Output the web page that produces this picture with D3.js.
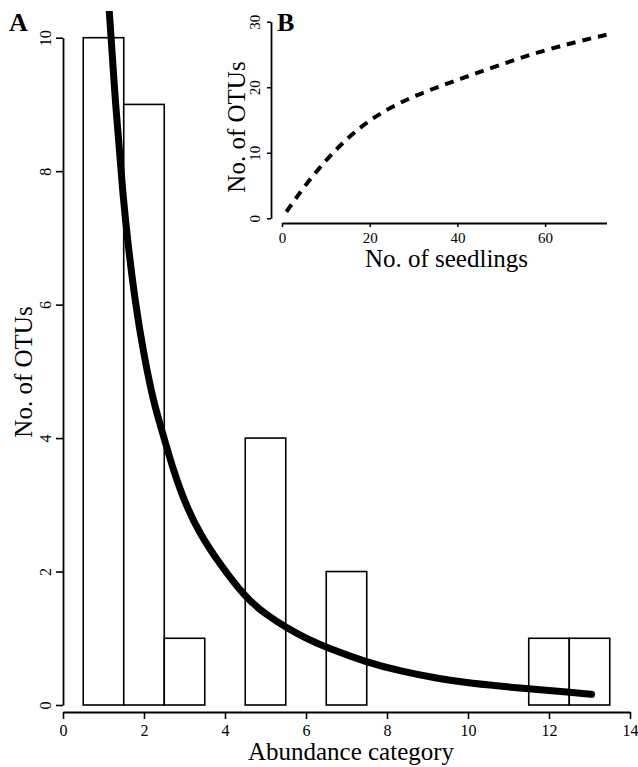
<!DOCTYPE html>
<html>
<head>
<meta charset="utf-8">
<script src="https://cdn.jsdelivr.net/npm/d3@7"></script>
<style>
  body { margin: 0; background: #fff; }
  svg text { font-family: "Liberation Serif", "DejaVu Serif", serif; fill: #000; }
</style>
</head>
<body>
<svg id="chart" width="638" height="767"></svg>
<script>
// histogram of OTUs per abundance category
const categories = [1, 2, 3, 4, 5, 6, 7, 8, 9, 10, 11, 12, 13];
const otuCounts = [10, 9, 1, 0, 4, 0, 2, 0, 0, 0, 0, 1, 1];
const xTicks = [0, 2, 4, 6, 8, 10, 12, 14];
const yTicks = [0, 2, 4, 6, 8, 10];

// fitted curve
const fitX = [1.1, 1.12, 1.3, 1.49, 1.61, 1.78, 1.98, 2.23, 2.44, 2.72, 3.05, 3.38, 3.8, 4.51, 5.03, 5.51, 6.0, 6.51, 7.5, 8.32, 9.31, 9.97, 11.51, 12.52, 13.05, 13.05];
const fitY = [10.8, 10.6, 8.95, 7.57, 6.88, 6.05, 5.3, 4.55, 4.12, 3.52, 2.97, 2.57, 2.17, 1.6, 1.35, 1.16, 1.0, 0.86, 0.64, 0.51, 0.39, 0.33, 0.24, 0.19, 0.16, 0.16];

// inset: accumulation curve
const seedlings = [1, 1, 5, 10, 15, 20, 25, 30, 35, 40, 50, 60, 70, 74, 74];
const otus = [1.0, 1.0, 4.8, 8.9, 12.3, 15.0, 17.0, 18.6, 19.9, 21.1, 23.5, 25.7, 27.4, 28, 28];
const insetXTicks = [0, 20, 40, 60];
const insetYTicks = [0, 10, 20, 30];

const svg = d3.select("#chart");

// ---- main panel A ----
const xScale = d3.scaleLinear().domain([0, 14]).range([63, 630]);
const yScale = d3.scaleLinear().domain([0, 10]).range([705, 37.7]);

svg.append("defs").append("clipPath")
  .attr("id", "plot-clip")
  .append("rect")
  .attr("x", 63).attr("y", 11)
  .attr("width", 580).attr("height", 700);

const bars = categories.map((c, i) => ({cat: c, n: otuCounts[i]})).filter(d => d.n > 0);

svg.append("g").attr("class", "bars")
  .selectAll("rect")
  .data(bars)
  .enter()
  .append("rect")
  .attr("x", d => xScale(d.cat - 0.5))
  .attr("y", d => yScale(d.n))
  .attr("width", d => xScale(d.cat + 0.5) - xScale(d.cat - 0.5))
  .attr("height", d => yScale(0) - yScale(d.n))
  .attr("fill", "#fff")
  .attr("stroke", "#000")
  .attr("stroke-width", 1.6);

// basis curve smooths out the reading noise
const fitLine = d3.line()
  .x(d => xScale(d[0]))
  .y(d => yScale(d[1]))
  .curve(d3.curveBasis);

svg.append("path")
  .datum(fitX.map((x, i) => [x, fitY[i]]))
  .attr("clip-path", "url(#plot-clip)")
  .attr("d", fitLine)
  .attr("fill", "none")
  .attr("stroke", "#000")
  .attr("stroke-width", 7)
  .attr("stroke-linecap", "round");

// x axis
const xAxis = svg.append("g")
  .attr("transform", "translate(0,712)")
  .call(d3.axisBottom(xScale).tickValues(xTicks).tickSize(7).tickPadding(4).tickSizeOuter(0));
xAxis.select(".domain").attr("stroke-width", 1.8);
xAxis.selectAll(".tick line").attr("stroke-width", 1.6);
xAxis.selectAll(".tick text")
  .attr("font-size", 16)
  .attr("font-family", "Liberation Serif, serif")
  .attr("dy", null)
  .attr("y", 24);

// y axis, labels turned like R's default
const yAxis = svg.append("g")
  .attr("transform", "translate(63,0)")
  .call(d3.axisLeft(yScale).tickValues(yTicks).tickSize(7).tickSizeOuter(0));
yAxis.select(".domain").attr("stroke-width", 1.8);
yAxis.selectAll(".tick line").attr("stroke-width", 1.6);
yAxis.selectAll(".tick text")
  .attr("font-size", 16)
  .attr("font-family", "Liberation Serif, serif")
  .attr("x", null).attr("dy", null)
  .attr("text-anchor", "middle")
  .attr("transform", "translate(-12,0) rotate(-90)");

svg.append("text")
  .attr("x", 351).attr("y", 760)
  .attr("text-anchor", "middle")
  .attr("font-size", 25)
  .text("Abundance category");

svg.append("text")
  .attr("transform", "translate(32,372) rotate(-90)")
  .attr("text-anchor", "middle")
  .attr("font-size", 25)
  .text("No. of OTUs");

svg.append("text")
  .attr("x", 9).attr("y", 31)
  .attr("font-size", 26)
  .attr("font-weight", "bold")
  .text("A");

// ---- inset panel B ----
const insetX = d3.scaleLinear().domain([0, 74]).range([282, 606.5]);
const insetY = d3.scaleLinear().domain([0, 30]).range([218.3, 21.7]);

const accLine = d3.line()
  .x(d => insetX(d[0]))
  .y(d => insetY(d[1]))
  .curve(d3.curveBasis);

svg.append("path")
  .datum(seedlings.map((s, i) => [s, otus[i]]))
  .attr("d", accLine)
  .attr("fill", "none")
  .attr("stroke", "#000")
  .attr("stroke-width", 4)
  .attr("stroke-dasharray", "9,7");

const ixAxis = svg.append("g")
  .attr("transform", "translate(0,223)")
  .call(d3.axisBottom(insetX).tickValues(insetXTicks).tickSize(4).tickPadding(3).tickSizeOuter(0));
ixAxis.select(".domain").attr("stroke-width", 1.8);
ixAxis.selectAll(".tick line").attr("stroke-width", 1.5);
ixAxis.selectAll(".tick text")
  .attr("font-size", 15)
  .attr("font-family", "Liberation Serif, serif")
  .attr("dy", null)
  .attr("y", 20);

const iyAxis = svg.append("g")
  .attr("transform", "translate(271,0)")
  .call(d3.axisLeft(insetY).tickValues(insetYTicks).tickSize(4).tickSizeOuter(0));
iyAxis.select(".domain").attr("stroke-width", 1.8);
iyAxis.selectAll(".tick line").attr("stroke-width", 1.5);
iyAxis.selectAll(".tick text")
  .attr("font-size", 15)
  .attr("font-family", "Liberation Serif, serif")
  .attr("x", null).attr("dy", null)
  .attr("text-anchor", "middle")
  .attr("transform", "translate(-11,0) rotate(-90)");

svg.append("text")
  .attr("x", 446.5).attr("y", 266.5)
  .attr("text-anchor", "middle")
  .attr("font-size", 25)
  .text("No. of seedlings");

svg.append("text")
  .attr("transform", "translate(245,127) rotate(-90)")
  .attr("text-anchor", "middle")
  .attr("font-size", 25)
  .text("No. of OTUs");

svg.append("text")
  .attr("x", 277).attr("y", 31)
  .attr("font-size", 26)
  .attr("font-weight", "bold")
  .text("B");
</script>
</body>
</html>
